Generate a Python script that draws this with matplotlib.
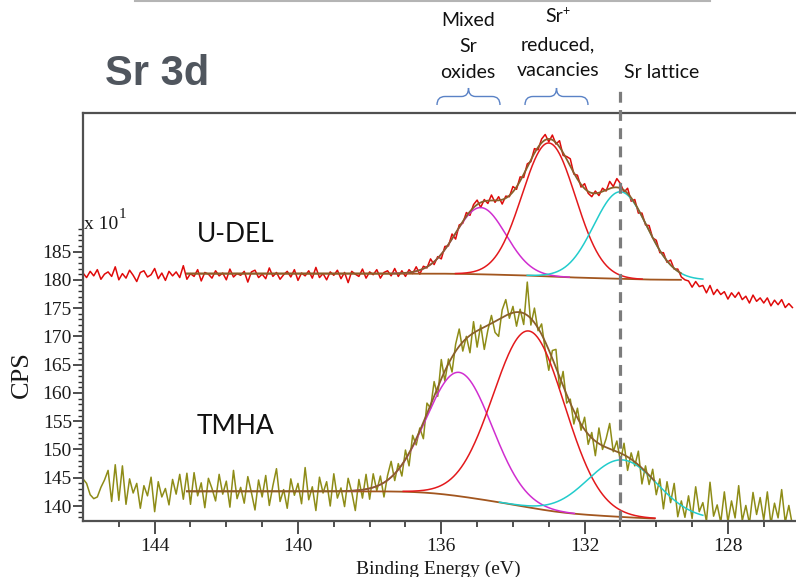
import numpy as np
import matplotlib
matplotlib.use('Agg')
import matplotlib.pyplot as plt
from matplotlib.path import Path
from matplotlib.patches import PathPatch
from matplotlib.ticker import FixedLocator
import matplotlib.transforms as mtransforms

# ---------------- data ----------------
energy_ev = np.round(np.arange(1460, 1261, -1) / 10.0, 1)   # 146.0 ... 126.2 eV

udel_cps = [
    181.2, 180.4, 181.5, 180.7, 181.8, 180.1, 181.0, 181.4, 180.6, 182.3,
    180.0, 181.1, 180.3, 181.7, 180.8, 179.7, 181.3, 181.6, 180.5, 180.9,
    182.0, 180.2, 181.2, 179.9, 181.5, 180.7, 181.4, 180.4, 182.5, 180.1,
    181.1, 180.6, 181.8, 179.8, 181.3, 181.0, 180.3, 181.6, 180.7, 181.2,
    180.0, 181.9, 180.5, 181.1, 180.8, 181.5, 179.6, 181.4, 181.7, 180.4,
    181.0, 180.2, 182.1, 180.6, 181.3, 180.1, 180.9, 181.5, 180.5, 181.8,
    179.9, 181.2, 180.7, 181.6, 180.3, 182.2, 180.4, 181.1, 180.0, 181.4,
    180.8, 181.7, 180.2, 181.3, 179.5, 181.5, 181.0, 180.6, 181.9, 180.3,
    181.4, 180.9, 181.8, 180.3, 181.3, 181.6, 180.7, 182.0, 180.6, 181.6,
    180.6, 181.8, 181.1, 182.3, 181.0, 182.4, 182.1, 183.7, 182.7, 184.1,
    183.7, 185.9, 186.0, 188.1, 187.2, 189.7, 190.0, 191.9, 191.4, 193.3,
    194.1, 192.8, 194.2, 193.5, 195.0, 193.7, 194.7, 193.4, 194.8, 194.7,
    196.5, 196.0, 198.2, 198.1, 200.5, 200.9, 203.2, 203.0, 204.9, 205.7,
    204.4, 205.6, 204.0, 204.6, 202.0, 201.8, 201.4, 198.7, 198.5, 196.4,
    197.0, 195.3, 194.7, 195.7, 194.9, 196.2, 195.7, 197.4, 196.5, 197.9,
    197.0, 195.5, 196.2, 193.9, 194.2, 191.8, 191.8, 189.7, 189.6, 187.4,
    187.0, 184.8, 184.8, 183.1, 183.5, 181.9, 181.9, 180.5, 180.0, 179.8,
    178.7, 179.7, 178.8, 179.0, 177.7, 179.0, 177.4, 178.3, 177.4, 177.9,
    176.6, 177.7, 176.9, 177.8, 176.5, 177.1, 175.9, 177.3, 176.2, 176.8,
    175.9, 176.8, 175.4, 176.4, 175.6, 176.5, 175.1, 175.8, 175.1,
]

tmha_cps = [
    144.8, 144.0, 142.0, 141.3, 141.6, 143.3, 144.6, 146.3, 140.8, 147.3,
    141.0, 147.1, 140.3, 144.8, 142.3, 144.0, 139.6, 143.6, 141.8, 145.1,
    139.0, 144.3, 141.6, 143.1, 140.2, 144.7, 142.1, 145.6, 141.2, 145.8,
    140.3, 145.9, 141.8, 144.1, 139.7, 144.9, 143.1, 140.9, 145.6, 142.1,
    144.4, 139.8, 146.3, 141.3, 143.3, 140.5, 145.2, 142.4, 139.3, 144.6,
    141.6, 145.4, 140.1, 143.6, 146.6, 140.8, 142.9, 139.6, 144.8, 141.9,
    144.0, 140.4, 146.8, 141.1, 143.4, 139.2, 145.1, 142.3, 144.3, 140.0,
    145.7, 141.4, 143.2, 139.9, 144.9, 142.5, 139.2, 144.7, 141.4, 145.6,
    141.2, 145.7, 142.7, 145.3, 141.6, 145.4, 147.9, 144.5, 147.5, 145.3,
    149.9, 147.1, 152.5, 150.8, 153.8, 151.9, 158.2, 157.3, 162.0, 159.4,
    165.9, 162.1, 166.0, 163.7, 168.6, 171.3, 167.4, 170.0, 167.1, 172.6,
    168.1, 172.0, 167.7, 171.1, 173.7, 170.7, 170.0, 174.7, 176.5, 173.2,
    175.3, 171.8, 174.8, 172.1, 179.6, 172.0, 175.0, 171.0, 172.2, 167.6,
    164.0, 167.5, 167.7, 160.8, 163.8, 158.2, 158.9, 154.5, 157.3, 153.4,
    155.7, 150.9, 153.0, 148.9, 153.8, 150.0, 151.9, 154.6, 149.6, 151.5,
    147.9, 151.1, 146.3, 149.4, 147.1, 149.7, 143.9, 147.1, 143.8, 146.5,
    142.0, 144.8, 139.5, 144.3, 140.6, 144.0, 138.1, 140.9, 138.0, 141.8,
    137.8, 143.4, 139.0, 140.6, 137.3, 144.2, 138.2, 140.2, 137.1, 142.5,
    137.2, 140.9, 137.9, 143.6, 137.4, 140.1, 136.9, 142.4, 138.5, 141.5,
    137.5, 142.5, 136.8, 140.5, 137.9, 142.9, 137.1, 140.1, 136.6,
]

# fitted components: Mixed Sr oxides, Sr+ reduced, Sr lattice
udel_peak_centers = [134.9, 133.0, 131.0]
udel_peak_heights = [11.8, 23.6, 15.4]
udel_peak_fwhm = [1.65, 1.75, 1.75]
udel_bg_high, udel_bg_low = 181.1, 180.0
udel_fit_range = (143.1, 129.3)

tmha_peak_centers = [135.5, 133.55, 130.95]
tmha_peak_heights = [21.9, 31.2, 10.1]
tmha_peak_fwhm = [2.15, 2.35, 2.3]
tmha_bg_high, tmha_bg_low = 142.6, 137.65
tmha_fit_range = (143.1, 130.05)

component_range = (143.1, 128.7)
lattice_energy = 131.0

x_ticks = [144, 140, 136, 132, 128]
y_ticks = [140, 145, 150, 155, 160, 165, 170, 175, 180, 185]

# ---------------- style ----------------
DATA_UDEL = '#e00a0a'
DATA_TMHA = '#8e8c17'
COMP_COLORS = ['#d02ed0', '#e3191c', '#22cccc']
ENV_COLOR = '#8a5f2a'
BG_COLOR = '#a2561f'
SERIF = 'Liberation Serif'
SANS = 'Lato'

plt.rcParams['font.family'] = [SERIF, 'DejaVu Serif']

W, H = 796, 577
fig = plt.figure(figsize=(W / 100, H / 100), dpi=100)
ax = fig.add_axes([83 / W, 56 / H, 713 / W, 408 / H])


def fitted_curves(centers, heights, fwhms, bg_high, bg_low, grid):
    comps = [h * 2.0 ** (-(2.0 * (grid - c) / w) ** 2)
             for c, h, w in zip(centers, heights, fwhms)]
    total = np.sum(comps, axis=0)
    # Shirley-type background: cumulative area from the low binding energy side
    dE = np.abs(np.gradient(grid))
    area = np.cumsum((total * dE)[::-1])[::-1]
    bg = bg_low + (bg_high - bg_low) * area / area[0]
    return comps, total, bg


grid = np.linspace(component_range[0], component_range[1], 800)


def draw_fit(centers, heights, fwhms, bg_high, bg_low, fit_range):
    comps, total, bg = fitted_curves(centers, heights, fwhms, bg_high, bg_low, grid)
    in_fit = (grid <= fit_range[0]) & (grid >= fit_range[1])
    ax.plot(grid[in_fit], bg[in_fit], color=BG_COLOR, lw=1.3, zorder=3)
    for comp, h, col in zip(comps, heights, COMP_COLORS):
        y = np.where(comp > 0.002 * h, bg + comp, np.nan)
        ax.plot(grid, y, color=col, lw=1.1, zorder=4)
    ax.plot(grid[in_fit], (bg + total)[in_fit], color=ENV_COLOR, lw=1.3, zorder=5)


ax.plot(energy_ev, udel_cps, color=DATA_UDEL, lw=1.1, zorder=2)
ax.plot(energy_ev, tmha_cps, color=DATA_TMHA, lw=1.1, zorder=2)
draw_fit(udel_peak_centers, udel_peak_heights, udel_peak_fwhm,
         udel_bg_high, udel_bg_low, udel_fit_range)
draw_fit(tmha_peak_centers, tmha_peak_heights, tmha_peak_fwhm,
         tmha_bg_high, tmha_bg_low, tmha_fit_range)

ax.set_xlim(146.0, 126.1)
ax.set_ylim(137.35, 209.5)

# dashed Sr lattice marker, extending above the frame
trans = mtransforms.blended_transform_factory(ax.transData, ax.transAxes)
ax.plot([lattice_energy, lattice_energy], [0.0, 1.064], transform=trans,
        color='#7c7c7c', lw=2.3, dashes=(3.4, 2.3), clip_on=False, zorder=6)

# axes cosmetics
spine_col = '#505050'
for s in ['left', 'top', 'bottom']:
    ax.spines[s].set_color(spine_col)
    ax.spines[s].set_linewidth(1.6)
ax.spines['right'].set_visible(False)

ax.xaxis.set_major_locator(FixedLocator(x_ticks))
ax.xaxis.set_minor_locator(FixedLocator([v for v in range(127, 146) if v not in x_ticks]))
ax.yaxis.set_major_locator(FixedLocator(y_ticks))
ax.yaxis.set_minor_locator(FixedLocator([v for v in range(138, 190) if v not in y_ticks]))
ax.tick_params(axis='x', which='major', direction='out', length=9.5, width=1.2,
               color='#303030', labelsize=14, pad=3)
ax.tick_params(axis='x', which='minor', direction='out', length=4.5, width=1.2, color='#303030')
ax.tick_params(axis='y', which='major', direction='out', length=7, width=1.2,
               color='#303030', labelsize=14, pad=1)
ax.tick_params(axis='y', which='minor', direction='out', length=3.5, width=1.0, color='#303030')
for lab in ax.get_xticklabels() + ax.get_yticklabels():
    lab.set_color('#1a1a1a')

fig.text(438 / W, 1 - 569 / H, 'Binding Energy (eV)', fontsize=14, ha='center', va='center',
         color='#1a1a1a')
fig.text(22 / W, 1 - 375 / H, 'CPS', rotation=90, fontsize=19, ha='center', va='center',
         color='#1a1a1a')
fig.text(84 / W, 1 - 229 / H, 'x 10', fontsize=14, ha='left', va='baseline', color='#1a1a1a')
fig.text(119 / W, 1 - 218 / H, '1', fontsize=11, ha='left', va='baseline', color='#1a1a1a')

# series labels
fig.text(197 / W, 1 - 235 / H, 'U-DEL', fontsize=19, family=SANS, ha='left', va='center',
         color='#111111')
fig.text(197 / W, 1 - 427 / H, 'TMHA', fontsize=19, family=SANS, ha='left', va='center',
         color='#111111')

# title and annotations
fig.text(105 / W, 1 - 85 / H, 'Sr 3d', fontsize=30, family='Liberation Sans', weight='bold',
         ha='left', va='baseline', color='#50565e')
for txt, y in [('Mixed', 20), ('Sr', 47), ('oxides', 72)]:
    fig.text(468 / W, 1 - y / H, txt, fontsize=14, family=SANS, ha='center', va='center',
             color='#111111')
fig.text(554 / W, 1 - 17 / H, 'Sr', fontsize=14, family=SANS, ha='center', va='center',
         color='#111111')
fig.text(562 / W, 1 - 11 / H, '+', fontsize=9, family=SANS, ha='left', va='center',
         color='#111111')
for txt, y in [('reduced,', 45), ('vacancies', 70)]:
    fig.text(558 / W, 1 - y / H, txt, fontsize=14, family=SANS, ha='center', va='center',
             color='#111111')
fig.text(662 / W, 1 - 72 / H, 'Sr lattice', fontsize=14, family=SANS, ha='center',
         va='center', color='#111111')

# slide rule at the very top
fig.add_artist(plt.Line2D([135 / W, 710 / W], [1 - 1 / H, 1 - 1 / H], color='#b4b4b4',
                          lw=1.5, transform=fig.transFigure))


def brace(x0, x1, ytip, yend):
    xm = (x0 + x1) / 2.0
    ymid = (ytip + yend) / 2.0
    pts = [(x0, yend), (x0, ymid), (x0 + 8, ymid), (xm - 7, ymid), (xm, ymid), (xm, ytip),
           (xm, ymid), (xm + 7, ymid), (x1 - 8, ymid), (x1, ymid), (x1, yend)]
    codes = [Path.MOVETO, Path.CURVE3, Path.CURVE3, Path.LINETO, Path.CURVE3, Path.CURVE3,
             Path.CURVE3, Path.CURVE3, Path.LINETO, Path.CURVE3, Path.CURVE3]
    verts = [(px / W, 1 - py / H) for px, py in pts]
    fig.add_artist(PathPatch(Path(verts, codes), fill=False, edgecolor='#5a82c6', lw=1.0,
                             transform=fig.transFigure))


brace(437, 500, 88, 105)
brace(525, 588, 88, 105)

fig.savefig('out.png', dpi=100)
